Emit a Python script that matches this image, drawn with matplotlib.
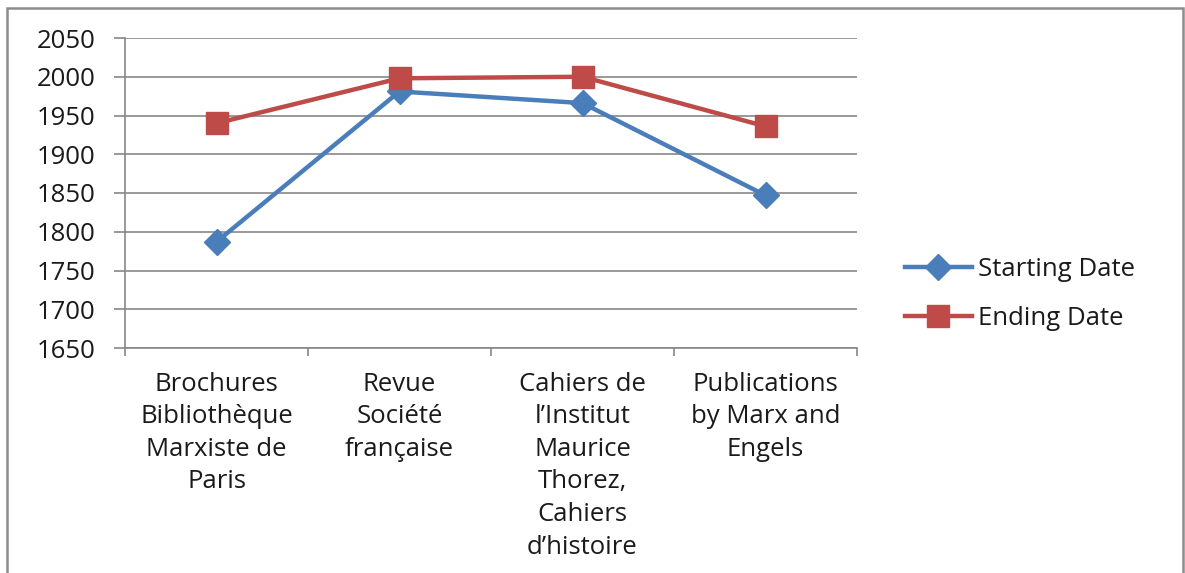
import matplotlib
matplotlib.use("Agg")
import matplotlib.pyplot as plt
from matplotlib.patches import Rectangle
from matplotlib.ticker import FixedLocator, MultipleLocator

categories = [
    "Brochures\nBibliothèque\nMarxiste de\nParis",
    "Revue\nSociété\nfrançaise",
    "Cahiers de\nl\u2019Institut\nMaurice\nThorez,\nCahiers\nd\u2019histoire",
    "Publications\nby Marx and\nEngels",
]
starting = [1787, 1981, 1966, 1847]
ending = [1940, 1998, 2000, 1936]
series_names = ["Starting Date", "Ending Date"]

plt.rcParams['font.family'] = ['Open Sans', 'DejaVu Sans']
FS = 18.5
W, H = 1185, 573
fig = plt.figure(figsize=(W / 100, H / 100), dpi=100)
ax = fig.add_axes([125 / W, 1 - 348 / H, (857 - 125) / W, (348 - 38) / H])

blue = "#4A7EBB"
red = "#BE4B48"
grid = "#878787"

x = list(range(len(categories)))
ax.plot(x, starting, color=blue, lw=3.2, marker="D", ms=13, mec=blue, mfc=blue,
        label=series_names[0], zorder=3)
ax.plot(x, ending, color=red, lw=3.2, marker="s", ms=16.5, mec=red, mfc=red,
        label=series_names[1], zorder=4)

ax.set_xlim(-0.5, len(categories) - 0.5)
ax.set_ylim(1650, 2050)
ax.yaxis.set_major_locator(MultipleLocator(50))
ax.grid(axis="y", color=grid, lw=1.2)
ax.set_axisbelow(True)

ax.set_xticks(x)
ax.set_xticklabels(categories, fontsize=FS, color="#1a1a1a", linespacing=1.4)
ax.xaxis.set_minor_locator(FixedLocator([i - 0.5 for i in range(len(categories) + 1)]))
ax.tick_params(axis="x", which="major", length=0, pad=17)
ax.tick_params(axis="x", which="minor", length=6, width=1.2, color=grid)
ax.tick_params(axis="y", length=8, width=1.2, color=grid, pad=13, labelsize=FS,
               labelcolor="#1a1a1a")

for s in ["top", "right"]:
    ax.spines[s].set_visible(False)
for s in ["left", "bottom"]:
    ax.spines[s].set_color(grid)
    ax.spines[s].set_linewidth(1.2)

leg = ax.legend(loc="center left", bbox_to_anchor=(905 / W, 1 - 294 / H),
                bbox_transform=fig.transFigure, frameon=False, fontsize=FS,
                handlelength=2.6, handletextpad=0.25, labelspacing=0.93,
                borderaxespad=0, borderpad=0)
for t in leg.get_texts():
    t.set_color("#1a1a1a")

fig.patches.append(Rectangle((7 / W, -0.02), (1183 - 7) / W, 1 - 8 / H + 0.02,
                             transform=fig.transFigure, fill=False,
                             edgecolor="#8c8c8c", lw=1.8))

fig.savefig("out.png", dpi=100)
